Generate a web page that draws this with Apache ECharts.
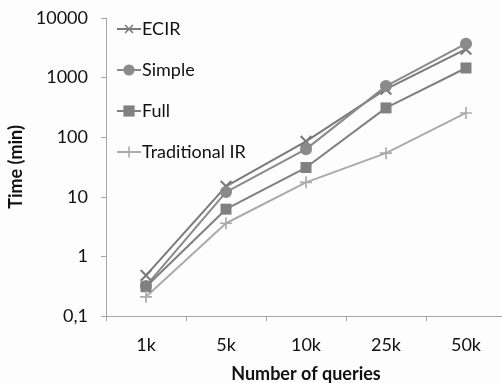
<!DOCTYPE html>
<html><head><meta charset="utf-8">
<script src="https://cdn.jsdelivr.net/npm/echarts@6/dist/echarts.min.js"></script>
<style>html,body{margin:0;padding:0;background:#fdfdfd}#c{width:502px;height:383px}</style>
</head><body><div id="c"></div>
<script>
const categories = ['1k','5k','10k','25k','50k'];
const ecir = [0.48, 15, 85, 640, 3000];
const simple = [0.32, 12, 63, 720, 3700];
const full = [0.31, 6.2, 31, 310, 1450];
const traditional = [0.21, 3.6, 17.5, 54, 255];
const yTicks = [0.1, 1, 10, 100, 1000, 10000];

const plus = 'path://M4.3,0H5.7V4.3H10V5.7H5.7V10H4.3V5.7H0V4.3H4.3Z';
const font = 'Lato';
const chart = echarts.init(document.getElementById('c'), null, {renderer:'canvas'});
function mk(name, data, color, symbol, size, rot, width){
  return {name, type:'line', data, symbol, symbolSize:size, symbolRotate:rot||0,
    showSymbol:true, lineStyle:{color, width:width||2}, itemStyle:{color},
    emphasis:{disabled:true}, z: 2};
}
chart.setOption({
  backgroundColor:'#fdfdfd',
  animation:false,
  textStyle:{fontFamily:font},
  grid:{left:106, top:18, width:400, bottom:67, containLabel:false, outerBoundsMode:'none'},
  legend:{orient:'vertical', left:111, top:15, itemGap:23, itemWidth:24, itemHeight:14,
    textStyle:{fontFamily:font, fontSize:18, lineHeight:18, color:'#111', padding:[0,0,0,-4]},
    data:['ECIR','Simple','Full','Traditional IR']},
  xAxis:{type:'category', data:categories, boundaryGap:true,
    name:'Number of queries', nameLocation:'middle', nameGap:49,
    nameTextStyle:{fontFamily:font, fontSize:18, fontWeight:'bold', color:'#111'},
    axisLine:{lineStyle:{color:'#a6a6a6', width:1}},
    axisTick:{show:true, length:5, lineStyle:{color:'#a6a6a6'}},
    axisLabel:{fontSize:18, color:'#111', margin:20, fontFamily:font},
    splitLine:{show:false}},
  yAxis:{type:'log', logBase:10, min:0.1, max:10000,
    name:'Time (min)', nameLocation:'middle', nameGap:80, nameRotate:90,
    nameTextStyle:{fontFamily:font, fontSize:18, fontWeight:'bold', color:'#111'},
    axisLine:{show:true, lineStyle:{color:'#a6a6a6', width:1}},
    axisTick:{show:true, length:5, lineStyle:{color:'#a6a6a6'}},
    axisLabel:{fontSize:18, color:'#111', margin:18, fontFamily:font,
      formatter:v=>{ const t=yTicks.find(x=>Math.abs(x-v)/x<1e-6); return t===undefined?'':String(t).replace('.',','); }},
    splitLine:{show:false}},
  series:[
    mk('ECIR', ecir, '#7a7a7a', plus, 15, 45, 2),
    mk('Simple', simple, '#8a8a8a', 'circle', 12, 0, 2),
    mk('Full', full, '#808080', 'rect', 11, 0, 2),
    mk('Traditional IR', traditional, '#ababab', plus, 12, 0, 2)
  ]
});
</script></body></html>
